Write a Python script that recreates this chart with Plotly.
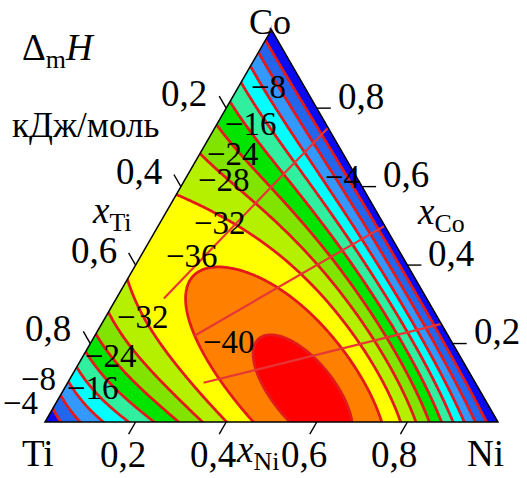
import numpy as np
import plotly.graph_objects as go

# ---- liquid Co-Ni-Ti: integral enthalpy of mixing, kJ/mol ----
# Redlich-Kister coefficients of the binary subsystems
L_CoNi = [-3.0]                          # powers of (xCo - xNi)
L_CoTi = [-134.0, 18.0, -2.0, -40.0]     # powers of (xCo - xTi)
L_NiTi = [-153.0, -101.0, 13.7, 89.0]    # powers of (xNi - xTi)
# ternary interaction parameters (weights of xCo, xNi, xTi)
L_CoNiTi = [0.0, -180.0, -185.0]

# isoenthalpic levels and band fills, lowest band first
levels = [-40, -36, -32, -28, -24, -20, -16, -12, -8, -4]
band_colors = ["#ff0000", "#ff8000", "#ffff00", "#b4f000", "#80e400",
               "#00e400", "#30f0a0", "#00ffff", "#3399ff", "#2266ee", "#0a0af0"]

# studied sections: Co-Ni binary alloy (xCo) diluted with Ti up to xTi_max
section_xCo = [0.75, 0.50, 0.25]
section_xTi_max = [0.58, 0.56, 0.60]

# axis ticks
ticks = [0.2, 0.4, 0.6, 0.8]
tick_text = ["0,2", "0,4", "0,6", "0,8"]

# isoline labels: text and position (pixel frame of the figure)
iso_labels = [
    ("\u22128", 268, 87), ("\u221216", 251, 124), ("\u221224", 233, 154),
    ("\u221228", 224, 180), ("\u221232", 220, 223), ("\u221236", 192, 256),
    ("\u221240", 229, 342), ("\u221232", 143, 317), ("\u221224", 111, 356),
    ("\u221216", 93, 388), ("\u22128", 38, 379), ("\u22124", 20, 403),
    ("\u22124", 342, 177),
]

# ---------------- geometry ----------------
W, Hpx = 527, 478
S = 453.0                 # pixels per unit of composition
OX, OY = 45.0, 422.0      # pixel position of the Ti corner
H = np.sqrt(3) / 2


def to_xy(xco, xni):
    return xni + 0.5 * xco, H * xco


def px(xp, yp):
    return (xp - OX) / S, (OY - yp) / S


def rk(coefs, d):
    return sum(c * d ** k for k, c in enumerate(coefs))


# ---------------- enthalpy surface ----------------
gx = np.linspace(-0.01, 1.01, 307)
gy = np.linspace(-0.01, 0.876, 268)
GX, GY = np.meshgrid(gx, gy)
xco = GY / H
xni = GX - 0.5 * xco
xti = 1.0 - xco - xni
dH = (xco * xni * rk(L_CoNi, xco - xni)
      + xco * xti * rk(L_CoTi, xco - xti)
      + xni * xti * rk(L_NiTi, xni - xti)
      + xco * xni * xti * (L_CoNiTi[0] * xco + L_CoNiTi[1] * xni + L_CoNiTi[2] * xti))

nb = len(band_colors) - 1
colorscale = [[i / nb, c] for i, c in enumerate(band_colors)]

fig = go.Figure()
fig.add_trace(go.Contour(
    x=gx, y=gy, z=np.round(dH, 3),
    colorscale=colorscale, showscale=False, autocontour=False,
    contours=dict(start=levels[0], end=levels[-1], size=levels[1] - levels[0],
                  coloring="fill", showlines=True),
    line=dict(color="#e41a1a", width=2.8, smoothing=1),
    hoverinfo="skip",
))

# sections
for c, e in zip(section_xCo, section_xTi_max):
    x0, y0 = to_xy(c, 1 - c)
    x1, y1 = to_xy(c * (1 - e), (1 - c) * (1 - e))
    fig.add_trace(go.Scatter(x=[x0, x1], y=[y0, y1], mode="lines",
                             line=dict(color="#e63636", width=2.2),
                             hoverinfo="skip", showlegend=False))

# ---------------- frame ----------------
shapes = []
white = dict(type="path", fillcolor="white", line=dict(width=0), layer="above",
             xref="x", yref="y")
shapes.append(dict(white, path=f"M -0.3,-0.3 L 0,0 L 0.5,{H} L 0.5,1.3 L -0.3,1.3 Z"))
shapes.append(dict(white, path=f"M 1.3,-0.3 L 1,0 L 0.5,{H} L 0.5,1.3 L 1.3,1.3 Z"))
shapes.append(dict(white, path="M -0.3,0 L 1.3,0 L 1.3,-0.3 L -0.3,-0.3 Z"))
shapes.append(dict(type="path", path=f"M 0,0 L 1,0 L 0.5,{H} Z",
                   line=dict(color="black", width=1.5), layer="above",
                   xref="x", yref="y"))

TL = 14 / S
annotations = []
SERIF = "Liberation Serif, Times New Roman, serif"
font_tick = dict(family=SERIF, size=37, color="black")
font_title = dict(family=SERIF, size=37, color="black")
font_iso = dict(family=SERIF, size=33, color="black")


def add_text(text, x, y, font, xanchor="center", yanchor="middle"):
    annotations.append(dict(text=text, x=x, y=y, xref="x", yref="y", showarrow=False,
                            font=font, xanchor=xanchor, yanchor=yanchor))


for t, lab in zip(ticks, tick_text):
    # x_Ni along the base
    bx, by = to_xy(0, t)
    shapes.append(dict(type="line", x0=bx, y0=by, x1=bx - 0.5 * TL, y1=by - H * TL,
                       line=dict(color="black", width=1.4), layer="above"))
    add_text(lab, bx - 13 / S, by - 32 / S, font_tick)
    # x_Ti along the left side
    lx, ly = to_xy(1 - t, 0)
    shapes.append(dict(type="line", x0=lx, y0=ly, x1=lx - 0.5 * TL, y1=ly + H * TL,
                       line=dict(color="black", width=1.4), layer="above"))
    add_text(lab, lx - 42 / S, ly + 15 / S, font_tick)
    # x_Co along the right side
    rx, ry = to_xy(t, 1 - t)
    shapes.append(dict(type="line", x0=rx, y0=ry, x1=rx + TL, y1=ry,
                       line=dict(color="black", width=1.4), layer="above"))
    add_text(lab, rx + 44 / S, ry + 12 / S, font_tick)

# corners and axis titles
add_text("Co", *px(270, 0), dict(family=SERIF, size=36, color="black"), yanchor="top")
add_text("Ti", *px(38, 453), font_tick)
add_text("Ni", *px(485, 453), font_tick)
add_text("<i>x</i><sub>Ti</sub>", *px(112, 213), font_title)
add_text("<i>x</i><sub>Co</sub>", *px(441, 214), font_title)
add_text("<i>x</i><sub>Ni</sub>", *px(257, 452), font_title)
add_text("\u0394<sub>m</sub><i>H</i>", *px(58, 50), font_title)
add_text("кДж/моль", *px(85, 125), dict(family=SERIF, size=35, color="black"))

for text, xp, yp in iso_labels:
    add_text(text, *px(xp, yp), font_iso)

fig.update_layout(
    width=W, height=Hpx, autosize=False,
    margin=dict(l=0, r=0, t=0, b=0),
    paper_bgcolor="white", plot_bgcolor="white",
    showlegend=False,
    xaxis=dict(range=[-OX / S, (W - OX) / S], visible=False, fixedrange=True),
    yaxis=dict(range=[-(Hpx - OY) / S, OY / S], visible=False, fixedrange=True),
    shapes=shapes, annotations=annotations,
)

fig.write_html("out.html")
